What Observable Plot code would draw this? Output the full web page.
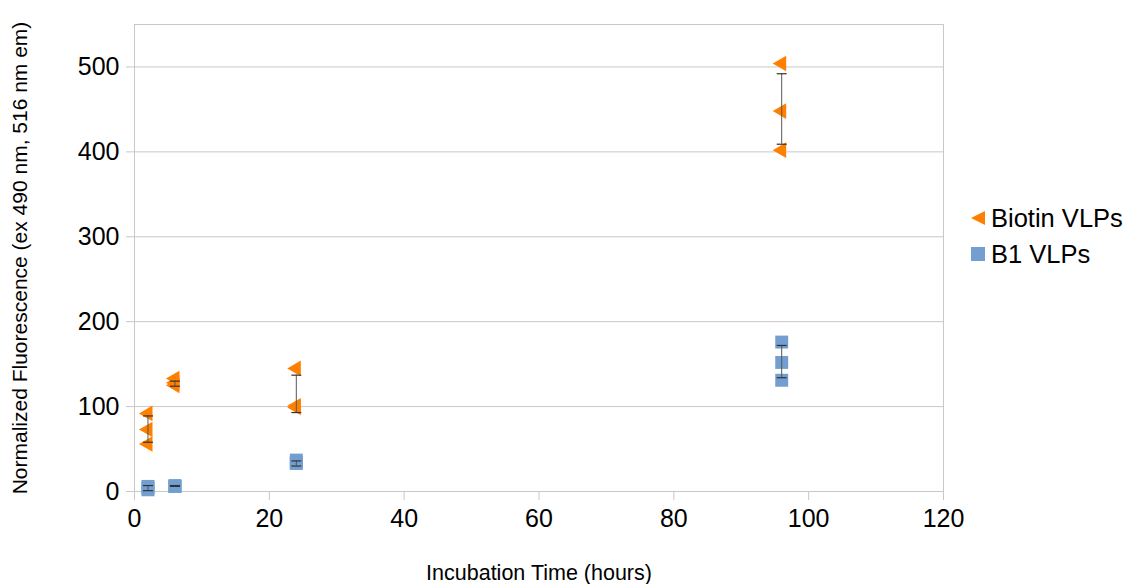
<!DOCTYPE html>
<html>
<head>
<meta charset="utf-8">
<script src="https://cdn.jsdelivr.net/npm/d3@7"></script>
<script src="https://cdn.jsdelivr.net/npm/@observablehq/plot@0.6"></script>
<style>
  body { margin: 0; background: #fff; font-family: "Liberation Sans", Arial, sans-serif; overflow: hidden; }
  #wrap { position: relative; width: 1125px; height: 584px; }
  #legend { position: absolute; left: 970px; top: 200px; font-size: 25.5px; color: #000; white-space: nowrap; }
  .item { display: flex; align-items: center; height: 36px; white-space: nowrap; }
  .item svg { margin-right: 5px; flex: none; }
</style>
</head>
<body>
<div id="wrap"><div id="legend"></div></div>
<script>
const times = [2, 6, 24, 96];
const seriesNames = ["Biotin VLPs", "B1 VLPs"];
const seriesColors = ["#ff8000", "#729fcf"];
const biotinReps = [[92, 73, 56], [133, 125, 128], [145, 101, 99], [504, 448, 402]];
const biotinErrLow = [58, 124, 93, 409];
const biotinErrHigh = [89, 130, 137, 492];
const b1Reps = [[2, 4, 6], [6, 6, 7], [37, 34, 33], [176, 152, 131]];
const b1ErrLow = [1, 6, 30, 134];
const b1ErrHigh = [7, 7, 36, 172];
const xTicks = [0, 20, 40, 60, 80, 100, 120];
const yTicks = [0, 100, 200, 300, 400, 500];
const xTitle = "Incubation Time (hours)";
const yTitle = "Normalized Fluorescence (ex 490 nm, 516 nm em)";

const pts = (reps) => times.flatMap((t, i) => reps[i].map(v => ({t, v})));
const errs = (lo, hi) => times.map((t, i) => ({t, lo: lo[i], hi: hi[i]}));
const biotinPts = pts(biotinReps), b1Pts = pts(b1Reps);
const biotinErr = errs(biotinErrLow, biotinErrHigh), b1Err = errs(b1ErrLow, b1ErrHigh);

const cap = { draw(ctx, size) { const w = Math.sqrt(size); ctx.moveTo(-w / 2, 0); ctx.lineTo(w / 2, 0); } };
const errMarks = (data) => [
  Plot.ruleX(data, {x: "t", y1: "lo", y2: "hi", stroke: "#555", strokeWidth: 1}),
  Plot.dot(data, {x: "t", y: "lo", symbol: cap, r: 5.64, stroke: "#333", strokeWidth: 1.2}),
  Plot.dot(data, {x: "t", y: "hi", symbol: cap, r: 5.64, stroke: "#333", strokeWidth: 1.2})
];

const chart = Plot.plot({
  width: 1125, height: 584,
  marginLeft: 134, marginRight: 182, marginTop: 24, marginBottom: 93,
  style: {fontFamily: "'Liberation Sans', Arial, sans-serif", color: "#000", background: "#fff"},
  x: {domain: [0, 120]},
  y: {domain: [0, 550]},
  marks: [
    Plot.gridY(yTicks, {stroke: "#c8c8c8", strokeOpacity: 1}),
    Plot.frame({stroke: "#c8c8c8"}),
    Plot.axisX(xTicks, {tickSize: 9, tickPadding: 9, stroke: "#c8c8c8", fill: "#000", fontSize: 25, label: null}),
    Plot.axisY(yTicks, {tickSize: 8, tickPadding: 7, stroke: "#c8c8c8", fill: "#000", fontSize: 25, label: null}),
    Plot.text([xTitle], {frameAnchor: "bottom", dy: 82, text: d => d, fontSize: 21.5, lineAnchor: "middle", textAnchor: "middle", fill: "#000"}),
    Plot.text([yTitle], {frameAnchor: "left", dx: -114, rotate: -90, text: d => d, fontSize: 21, lineAnchor: "middle", textAnchor: "middle", fill: "#000"}),
    Plot.dot(b1Pts, {x: "t", y: "v", symbol: "square", r: 7.3, fill: seriesColors[1], stroke: null}),
    Plot.dot(biotinPts, {x: "t", y: "v", symbol: "triangle", rotate: -90, r: 5.8, fill: seriesColors[0], stroke: null}),
    ...errMarks(b1Err),
    ...errMarks(biotinErr)
  ]
});
document.getElementById("wrap").prepend(chart);

const legend = document.getElementById("legend");
seriesNames.forEach((name, i) => {
  const item = document.createElement("div");
  item.className = "item";
  const sym = i === 0
    ? `<svg width="16" height="16"><polygon points="1,8 15,1 15,15" fill="${seriesColors[i]}"/></svg>`
    : `<svg width="16" height="16"><rect x="1" y="1" width="14" height="14" fill="${seriesColors[i]}"/></svg>`;
  item.innerHTML = sym + `<span>${name}</span>`;
  legend.appendChild(item);
});
</script>
</body>
</html>
